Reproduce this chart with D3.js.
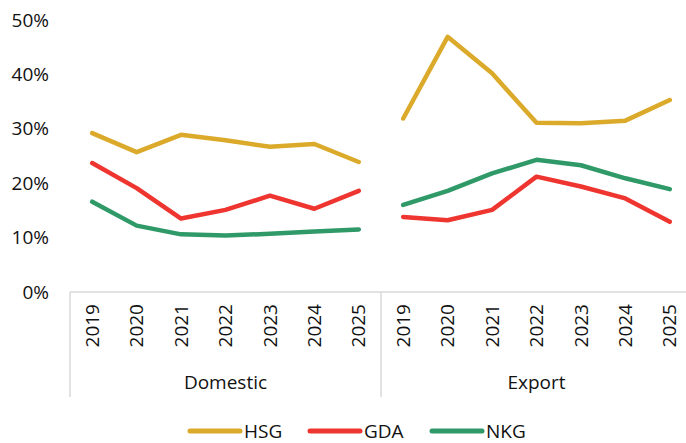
<!DOCTYPE html>
<html>
<head>
<meta charset="utf-8">
<script src="https://cdn.jsdelivr.net/npm/d3@7"></script>
<style>
  body { margin: 0; background: #fff; }
  svg { display: block; font-family: 'Open Sans', sans-serif; }
</style>
</head>
<body>
<svg width="686" height="443"></svg>
<script>
const groups = ['Domestic', 'Export'];
const years = ['2019', '2020', '2021', '2022', '2023', '2024', '2025'];
const yTicks = [0, 0.1, 0.2, 0.3, 0.4, 0.5];

// share per year, Domestic then Export
const hsg = [0.292, 0.257, 0.289, 0.279, 0.267, 0.272, 0.239,
             0.319, 0.469, 0.402, 0.311, 0.310, 0.315, 0.353];
const gda = [0.237, 0.191, 0.135, 0.151, 0.177, 0.153, 0.186,
             0.138, 0.132, 0.151, 0.212, 0.194, 0.172, 0.129];
const nkg = [0.166, 0.122, 0.106, 0.104, 0.107, 0.111, 0.115,
             0.160, 0.186, 0.218, 0.243, 0.233, 0.209, 0.189];

const series = [
    { name: 'HSG', color: '#dcaa2a', values: hsg },
    { name: 'GDA', color: '#ee3530', values: gda },
    { name: 'NKG', color: '#2f9a68', values: nkg }
];

const svg = d3.select('svg');
const plotLeft = 70;
const plotRight = 692;
const plotTop = 20;
const plotBottom = 292;
const fontSize = '19px';
const textColor = '#111';

const keys = [];
groups.forEach(g => years.forEach(y => keys.push(g + '-' + y)));

const x = d3.scaleBand()
    .domain(keys)
    .range([plotLeft, plotRight])
    .padding(0);

const y = d3.scaleLinear()
    .domain([0, 0.5])
    .range([plotBottom, plotTop]);

// y labels
svg.append('g')
    .selectAll('text')
    .data(yTicks)
    .enter()
    .append('text')
    .attr('x', 49)
    .attr('y', d => y(d))
    .attr('dy', '0.35em')
    .attr('text-anchor', 'end')
    .style('font-size', fontSize)
    .attr('fill', textColor)
    .text(d3.format('.0%'));

// category axis
const axisColor = '#d9d9d9';
svg.append('line')
    .attr('x1', plotLeft).attr('x2', plotRight)
    .attr('y1', plotBottom).attr('y2', plotBottom)
    .attr('stroke', axisColor)
    .attr('stroke-width', 1.5);

const groupEdges = [plotLeft, x(groups[1] + '-' + years[0])];
svg.append('g')
    .selectAll('line')
    .data(groupEdges)
    .enter()
    .append('line')
    .attr('x1', d => d).attr('x2', d => d)
    .attr('y1', plotBottom).attr('y2', 397)
    .attr('stroke', axisColor)
    .attr('stroke-width', 1.5);

svg.append('g')
    .selectAll('text')
    .data(keys)
    .enter()
    .append('text')
    .attr('transform', d => `translate(${x(d) + x.bandwidth() / 2},304) rotate(-90)`)
    .attr('dy', '0.35em')
    .attr('text-anchor', 'end')
    .style('font-size', fontSize)
    .attr('fill', textColor)
    .text(d => d.split('-')[1]);

svg.append('g')
    .selectAll('text')
    .data(groups)
    .enter()
    .append('text')
    .attr('x', g => {
        const a = x(g + '-' + years[0]);
        const b = x(g + '-' + years[years.length - 1]) + x.bandwidth();
        return (a + b) / 2;
    })
    .attr('y', 389)
    .attr('text-anchor', 'middle')
    .style('font-size', fontSize)
    .attr('fill', textColor)
    .text(d => d);

// lines, one path per group so the two panels are not joined
const line = d3.line()
    .x(d => x(d.key) + x.bandwidth() / 2)
    .y(d => y(d.value));

series.forEach(s => {
    groups.forEach((g, gi) => {
        const pts = years.map((yr, i) => ({
            key: g + '-' + yr,
            value: s.values[gi * years.length + i]
        }));
        svg.append('path')
            .datum(pts)
            .attr('d', line)
            .attr('fill', 'none')
            .attr('stroke', s.color)
            .attr('stroke-width', 4.5)
            .attr('stroke-linejoin', 'round')
            .attr('stroke-linecap', 'round');
    });
});

// legend
const legendX = [190, 310, 432];
const legend = svg.append('g')
    .selectAll('g')
    .data(series)
    .enter()
    .append('g')
    .attr('transform', (d, i) => `translate(${legendX[i]},431)`);

legend.append('line')
    .attr('x1', 0).attr('x2', 50)
    .attr('stroke', d => d.color)
    .attr('stroke-width', 5)
    .attr('stroke-linecap', 'round');

legend.append('text')
    .attr('x', 54)
    .attr('dy', '0.35em')
    .style('font-size', fontSize)
    .attr('fill', textColor)
    .text(d => d.name);
</script>
</body>
</html>
